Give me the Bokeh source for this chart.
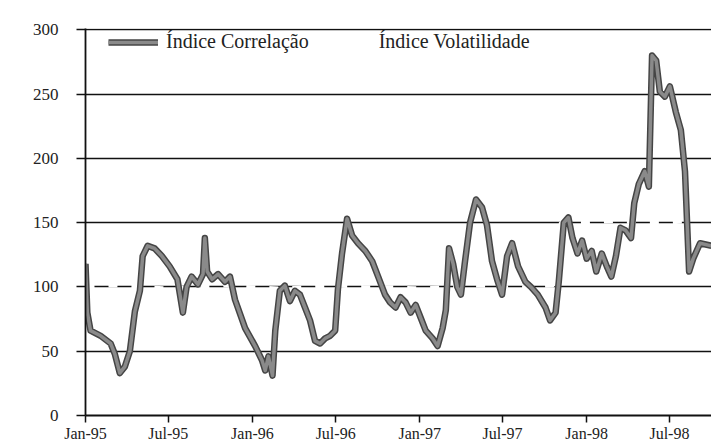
import pandas as pd
from datetime import datetime
from bokeh.plotting import figure
from bokeh.models import (Range1d, MonthsTicker, DatetimeTickFormatter, FixedTicker,
                          Legend, LegendItem, ColumnDataSource)
from bokeh.embed import file_html
from bokeh.resources import INLINE

# ---- data ----
corr_dates = [
    "1995-01-01", "1995-01-05", "1995-01-12", "1995-02-03", "1995-02-25", "1995-03-06",
    "1995-03-17", "1995-03-28", "1995-04-08", "1995-04-19", "1995-04-30", "1995-05-06",
    "1995-05-17", "1995-06-01", "1995-06-17", "1995-07-04", "1995-07-21", "1995-08-02",
    "1995-08-10", "1995-08-21", "1995-09-04", "1995-09-15", "1995-09-19", "1995-09-24",
    "1995-10-05", "1995-10-18", "1995-11-02", "1995-11-13", "1995-11-24", "1995-12-16",
    "1996-01-07", "1996-01-22", "1996-01-29", "1996-02-05", "1996-02-14", "1996-02-20",
    "1996-03-01", "1996-03-12", "1996-03-23", "1996-04-03", "1996-04-14", "1996-04-25",
    "1996-05-06", "1996-05-17", "1996-05-28", "1996-06-08", "1996-06-19", "1996-06-30",
    "1996-07-06", "1996-07-15", "1996-07-26", "1996-08-06", "1996-08-19", "1996-09-04",
    "1996-09-19", "1996-10-02", "1996-10-17", "1996-10-28", "1996-11-09", "1996-11-20",
    "1996-12-01", "1996-12-12", "1996-12-23", "1997-01-03", "1997-01-14", "1997-01-29",
    "1997-02-09", "1997-02-20", "1997-02-27", "1997-03-06", "1997-03-15", "1997-03-24",
    "1997-04-01", "1997-04-10", "1997-04-21", "1997-05-04", "1997-05-17", "1997-05-28",
    "1997-06-08", "1997-06-19", "1997-06-30", "1997-07-11", "1997-07-22", "1997-08-04",
    "1997-08-20", "1997-09-01", "1997-09-16", "1997-10-03", "1997-10-13", "1997-10-25",
    "1997-11-01", "1997-11-12", "1997-11-22", "1997-12-01", "1997-12-12", "1997-12-22",
    "1998-01-01", "1998-01-12", "1998-01-22", "1998-02-03", "1998-02-14", "1998-02-24",
    "1998-03-06", "1998-03-16", "1998-03-27", "1998-04-08", "1998-04-15", "1998-04-25",
    "1998-05-08", "1998-05-17", "1998-05-24", "1998-06-02", "1998-06-10", "1998-06-21",
    "1998-07-02", "1998-07-15", "1998-07-26", "1998-08-04", "1998-08-13", "1998-08-22",
    "1998-09-06", "1998-10-01",
]
corr_values = [
    118, 80, 66, 62, 56, 48,
    33, 38, 50, 81, 97, 124,
    132, 130, 124, 116, 106, 80,
    100, 108, 102, 110, 138, 112,
    106, 110, 104, 108, 90, 68,
    54, 43, 35, 46, 31, 66,
    97, 101, 89, 97, 94, 84,
    74, 58, 56, 60, 62, 66,
    98, 126, 153, 140, 134, 128,
    120, 108, 94, 88, 84, 92,
    88, 80, 86, 76, 66, 60,
    54, 68, 82, 130, 118, 100,
    94, 120, 150, 168, 162, 148,
    120, 106, 94, 124, 134, 116,
    104, 100, 94, 84, 74, 80,
    104, 150, 154, 138, 126, 136,
    122, 128, 112, 126, 116, 108,
    124, 146, 144, 138, 165, 180,
    190, 178, 280, 276, 252, 248,
    256, 236, 222, 190, 112, 122,
    134, 132,
]

vol_dates = [
    "1995-01-01", "1995-03-01", "1995-05-01", "1995-07-01", "1995-09-01", "1995-11-01",
    "1996-01-01", "1996-03-01", "1996-05-01", "1996-07-01", "1996-09-01", "1996-11-01",
    "1997-01-01", "1997-03-01", "1997-05-01", "1997-07-01", "1997-09-01", "1997-10-20",
    "1997-11-05", "1998-01-01", "1998-03-01", "1998-05-01", "1998-07-01", "1998-08-10",
    "1998-09-01", "1998-10-01",
]
vol_values = [
    100, 101, 100, 99, 100, 101,
    100, 99, 100, 101, 100, 100,
    99, 100, 101, 100, 100, 101,
    150, 150, 151, 150, 150, 151,
    168, 175,
]

y_ticks = [0, 50, 100, 150, 200, 250, 300]
x_tick_format = "%b-%y"

corr = ColumnDataSource(dict(x=pd.to_datetime(corr_dates), y=corr_values))
vol = ColumnDataSource(dict(x=pd.to_datetime(vol_dates), y=vol_values))

FONT = "Liberation Serif"

p = figure(
    frame_width=626, frame_height=387,
    x_axis_type="datetime",
    x_range=Range1d(datetime(1995, 1, 1), datetime(1998, 10, 1)),
    y_range=Range1d(0, 301),
    output_backend="svg", toolbar_location=None,
    min_border_left=85, min_border_top=28, min_border_right=0, min_border_bottom=26,
    background_fill_color="white", border_fill_color="white",
)
p.outline_line_color = None

# grid
p.xgrid.grid_line_color = None
p.ygrid.grid_line_color = "#111111"
p.ygrid.grid_line_width = 1.6
p.ygrid.ticker = FixedTicker(ticks=y_ticks)

# axes
p.yaxis.ticker = FixedTicker(ticks=y_ticks)
p.xaxis.ticker = MonthsTicker(months=[0, 6])
p.xaxis.formatter = DatetimeTickFormatter(
    months=x_tick_format, days=x_tick_format, years=x_tick_format,
    hours=x_tick_format, minutes=x_tick_format, seconds=x_tick_format,
    milliseconds=x_tick_format, microseconds=x_tick_format, hourmin=x_tick_format,
    minsec=x_tick_format,
)
for ax in (p.xaxis[0], p.yaxis[0]):
    ax.axis_line_color = "#111111"
    ax.axis_line_width = 1.8
    ax.major_tick_line_color = "#111111"
    ax.major_tick_line_width = 1.5
    ax.minor_tick_line_color = None
    ax.major_label_text_font = FONT
    ax.major_label_text_color = "#222222"
p.yaxis.major_tick_out = 9
p.yaxis.major_tick_in = 0
p.yaxis.major_label_standoff = 18
p.yaxis.major_label_text_font_size = "17px"
p.xaxis.major_tick_out = 7
p.xaxis.major_tick_in = 0
p.xaxis.major_label_standoff = 2
p.xaxis.major_label_text_font_size = "16px"

# series
r_vol = p.line("x", "y", source=vol, line_color="white", line_width=3.5, line_dash="9 14")
r_out = p.line("x", "y", source=corr, line_color="#454545", line_width=6.5, line_join="round")
r_in = p.line("x", "y", source=corr, line_color="#8a8a8a", line_width=3.5, line_join="round")

legend = Legend(
    items=[LegendItem(label="Índice Correlação", renderers=[r_out, r_in]),
           LegendItem(label="Índice Volatilidade", renderers=[r_vol])],
    orientation="horizontal",
    location=(23, 362),
    background_fill_alpha=0, border_line_color=None,
    label_text_font=FONT, label_text_font_size="20px", label_text_color="#222222",
    glyph_width=50, glyph_height=20, label_height=20, label_standoff=8,
    spacing=12, padding=0, margin=0,
)
p.add_layout(legend, "center")

open("out.html", "w").write(file_html(p, INLINE))
